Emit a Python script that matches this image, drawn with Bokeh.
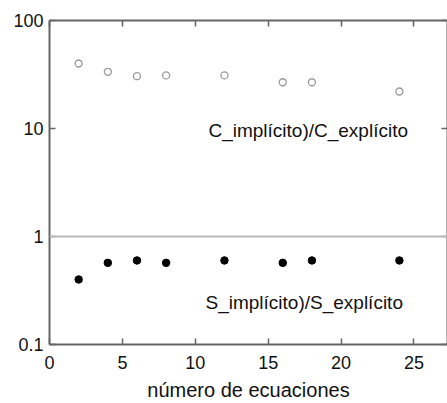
from bokeh.plotting import figure
from bokeh.models import (LinearAxis, LogAxis, FixedTicker, Span, Label,
                          ColumnDataSource)
from bokeh.embed import file_html
from bokeh.resources import INLINE

# number of equations and the two ratios
n_equations = [2, 4, 6, 8, 12, 16, 18, 24]
c_ratio = [40, 33.5, 30.5, 31, 31, 26.8, 26.8, 22]
s_ratio = [0.40, 0.57, 0.60, 0.57, 0.60, 0.57, 0.60, 0.60]

x_ticks = [0, 5, 10, 15, 20, 25]
y_ticks = [0.1, 1, 10, 100]
y_tick_labels = {0.1: "0.1", 1: "1", 10: "10", 100: "100"}

src = ColumnDataSource(dict(n=n_equations, c=c_ratio, s=s_ratio))

AX = "#666666"
FONT = "Liberation Sans"

p = figure(width=447, height=403, output_backend="svg", toolbar_location=None,
           y_axis_type="log", x_range=(0, 27.3), y_range=(0.1, 100),
           x_axis_location=None, y_axis_location=None,
           min_border_left=49, min_border_right=0, min_border_top=20,
           min_border_bottom=59)
p.outline_line_color = None
p.grid.visible = False
p.background_fill_color = "white"
p.border_fill_color = "white"

def style(ax, labels=True):
    ax.axis_line_color = AX
    ax.axis_line_width = 2
    ax.major_tick_line_color = AX
    ax.major_tick_line_width = 1.5
    ax.major_tick_in = 6
    ax.major_tick_out = 0
    ax.minor_tick_line_color = None
    ax.major_label_text_font = FONT
    ax.major_label_text_font_size = "18px"
    ax.major_label_text_color = "#111111"
    ax.major_label_text_line_height = 1.0
    if not labels:
        ax.major_label_text_color = None
        ax.major_label_standoff = 0

bottom = LinearAxis(ticker=FixedTicker(ticks=x_ticks))
style(bottom)
bottom.major_label_standoff = 11
bottom.axis_label = "número de ecuaciones"
bottom.axis_label_text_font = FONT
bottom.axis_label_text_font_style = "normal"
bottom.axis_label_text_font_size = "20px"
bottom.axis_label_text_color = "#111111"
bottom.axis_label_text_line_height = 1.0
bottom.axis_label_standoff = 7
p.add_layout(bottom, "below")

top = LinearAxis(ticker=FixedTicker(ticks=x_ticks))
style(top, labels=False)
p.add_layout(top, "above")

left = LogAxis(ticker=FixedTicker(ticks=y_ticks, minor_ticks=[]))
style(left)
left.major_label_overrides = y_tick_labels
left.major_label_standoff = 6
p.add_layout(left, "left")

right = LogAxis(ticker=FixedTicker(ticks=y_ticks, minor_ticks=[]))
style(right, labels=False)
p.add_layout(right, "right")

# reference line at ratio 1
p.add_layout(Span(location=1, dimension="width", line_color="#bbbbbb",
                  line_width=2))

p.scatter("n", "c", source=src, size=7, fill_color=None,
          line_color="#9a9a9a", line_width=1.3)
p.scatter("n", "s", source=src, size=7.5, fill_color="black",
          line_color="black")

p.add_layout(Label(x=10.9, y=9.6, text="C_implícito)/C_explícito",
                   text_font=FONT, text_font_size="19px",
                   text_baseline="middle", text_color="#111111"))
p.add_layout(Label(x=10.7, y=0.245, text="S_implícito)/S_explícito",
                   text_font=FONT, text_font_size="19px",
                   text_baseline="middle", text_color="#111111"))

open("out.html", "w").write(file_html(p, INLINE))
